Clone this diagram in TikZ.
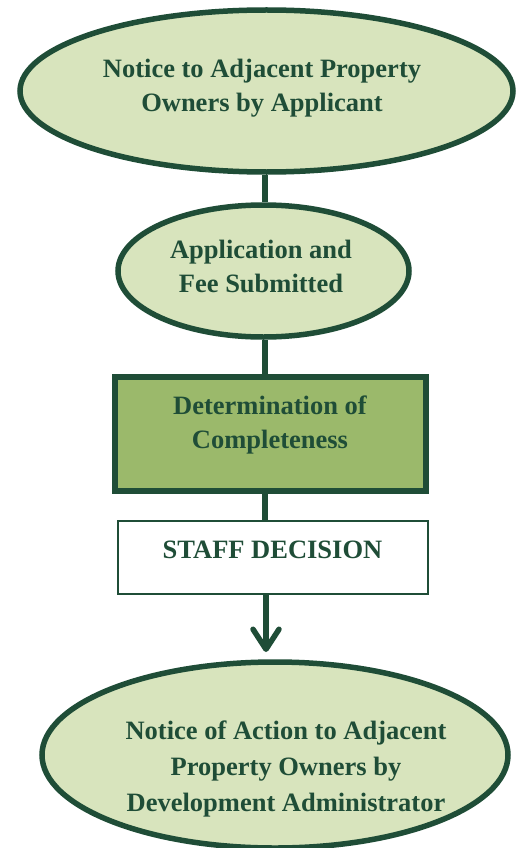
\documentclass[tikz,border=0pt]{standalone}
\usepackage{fontspec}
\setmainfont{Liberation Serif}
\usetikzlibrary{shapes.geometric,arrows.meta}
\definecolor{dkgreen}{HTML}{1F4D37}
\definecolor{lightfill}{HTML}{D8E4BD}
\definecolor{midfill}{HTML}{9BB96B}
\tikzset{
  oval/.style={ellipse, draw=dkgreen, fill=lightfill, line width=5.5pt, inner sep=0pt},
  boxA/.style={rectangle, draw=dkgreen, fill=midfill, line width=6pt, inner sep=0pt},
  boxB/.style={rectangle, draw=dkgreen, fill=white, line width=2.6pt, inner sep=0pt},
  txt/.style={text=dkgreen, font=\fontsize{26.5}{34}\selectfont\bfseries, align=center, inner sep=0pt},
  conn/.style={draw=dkgreen, line width=5.5pt},
}
\begin{document}
\begin{tikzpicture}[x=1pt,y=-1pt]
\useasboundingbox (0,0) rectangle (518,848);
\clip (0,0) rectangle (518,848);
\fill[white] (0,0) rectangle (518,848);
\coordinate (spine) at (265,0);
% shapes
\node[oval, minimum width=493, minimum height=162] (e1) at (266.5,91) {};
\node[oval, minimum width=291, minimum height=132] (e2) at (263.5,271) {};
\node[boxA, minimum width=311, minimum height=114] (r3) at (270.5,434) {};
\node[boxB, minimum width=310, minimum height=73] (r4) at (273,557.5) {};
\node[oval, minimum width=466, minimum height=186] (e5) at (275,755) {};
% texts
\node[txt] (t1) at (262,88) {Notice to Adjacent Property\\Owners by Applicant};
\node[txt] (t2) at (261,266) {Application and\\Fee Submitted};
\node[txt] (t3) at (270,424.5) {Determination of\\Completeness};
\node[txt] (t4) at (272.5,550) {STAFF DECISION};
\node[txt, font=\fontsize{26.5}{36}\selectfont\bfseries] (t5) at (286,769) {Notice of Action to Adjacent\\Property Owners by\\Development Administrator};
% connectors
\coordinate (tip) at (266,652);
\draw[conn] (e1.south -| spine) -- (e2.north -| spine);
\draw[conn] (e2.south -| spine) -- (r3.north -| spine);
\draw[conn] (r3.south -| spine) -- (r4.north -| spine);
\draw[conn, -{Straight Barb[length=20pt,width=26pt,round]}] (r4.south -| tip) -- (tip);
\end{tikzpicture}
\end{document}
